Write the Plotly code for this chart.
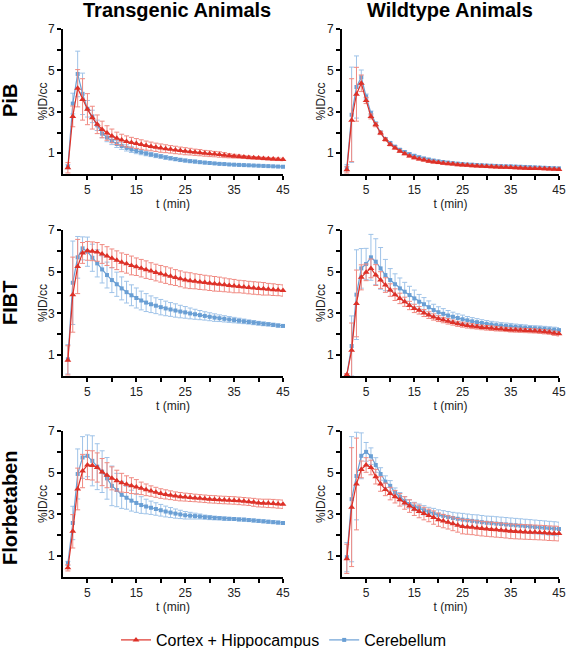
import plotly.graph_objects as go

t = list(range(1, 46))
row_labels = ["PiB", "FIBT", "Florbetaben"]
col_labels = ["Transgenic Animals", "Wildtype Animals"]
x_title = "t (min)"
y_title = "%ID/cc"
x_tickvals = [5, 10, 15, 20, 25, 30, 35, 40, 45]
x_ticktext = ["5", "", "15", "", "25", "", "35", "", "45"]
y_tickvals = [1, 2, 3, 4, 5, 6, 7]
y_ticktext = ["1", "", "3", "", "5", "", "7"]

# ---- PiB, transgenic ----
pib_tg_ch = [0.3, 2.78, 4.14, 3.6, 3.13, 2.72, 2.4, 2.15, 1.98, 1.84, 1.72, 1.64, 1.57, 1.52, 1.47,
             1.42, 1.37, 1.33, 1.29, 1.25, 1.22, 1.19, 1.16, 1.13, 1.1, 1.08, 1.05, 1.03, 1.0, 0.98,
             0.96, 0.94, 0.91, 0.88, 0.86, 0.84, 0.82, 0.8, 0.78, 0.77, 0.75, 0.74, 0.72, 0.71, 0.7]
pib_tg_ch_err = [0.25, 0.5, 0.9, 1.0, 0.75, 0.55, 0.45, 0.4, 0.35, 0.33, 0.3, 0.28, 0.27, 0.25, 0.24,
                 0.23, 0.22, 0.21, 0.2, 0.2, 0.19, 0.18, 0.18, 0.17, 0.17, 0.16, 0.15, 0.15, 0.14, 0.14,
                 0.13, 0.13, 0.12, 0.1, 0.09, 0.08, 0.07, 0.07, 0.06, 0.06, 0.06, 0.06, 0.06, 0.06, 0.06]
pib_tg_cb = [0.35, 3.4, 4.83, 3.87, 3.15, 2.78, 2.35, 1.95, 1.76, 1.6, 1.45, 1.35, 1.26, 1.18, 1.11,
             1.05, 0.99, 0.94, 0.89, 0.85, 0.8, 0.76, 0.72, 0.68, 0.65, 0.62, 0.6, 0.57, 0.55, 0.53,
             0.51, 0.49, 0.48, 0.46, 0.45, 0.44, 0.43, 0.42, 0.41, 0.4, 0.39, 0.38, 0.37, 0.36, 0.35]
pib_tg_cb_err = [0.1, 0.5, 1.1, 1.0, 0.4, 0.3, 0.25, 0.2, 0.2, 0.18, 0.17, 0.16, 0.15, 0.14, 0.13,
                 0.12, 0.11, 0.1, 0.1, 0.09, 0.09, 0.08, 0.08, 0.08, 0.07, 0.07, 0.07, 0.06, 0.06, 0.06,
                 0.05, 0.05, 0.05, 0.05, 0.05, 0.05, 0.05, 0.05, 0.05, 0.05, 0.05, 0.05, 0.05, 0.05, 0.05]

# ---- PiB, wildtype ----
pib_wt_ch = [0.2, 2.6, 3.85, 4.38, 3.55, 2.78, 2.38, 1.98, 1.66, 1.42, 1.25, 1.1, 0.98, 0.87, 0.78,
             0.72, 0.67, 0.62, 0.58, 0.55, 0.52, 0.5, 0.48, 0.45, 0.43, 0.42, 0.4, 0.39, 0.37, 0.36,
             0.35, 0.34, 0.33, 0.32, 0.31, 0.3, 0.29, 0.28, 0.27, 0.27, 0.26, 0.25, 0.24, 0.23, 0.22]
pib_wt_ch_err = [0.15, 2.0, 1.3, 0.4, 0.15, 0.12, 0.1, 0.08, 0.07, 0.06, 0.05, 0.05, 0.05, 0.05, 0.05,
                 0.05, 0.05, 0.05, 0.05, 0.05, 0.05, 0.05, 0.05, 0.05, 0.05, 0.05, 0.05, 0.05, 0.05, 0.05,
                 0.05, 0.05, 0.05, 0.05, 0.05, 0.05, 0.05, 0.05, 0.05, 0.05, 0.05, 0.05, 0.05, 0.05, 0.05]
pib_wt_cb = [0.3, 2.86, 4.2, 4.67, 3.74, 2.94, 2.43, 2.0, 1.69, 1.5, 1.32, 1.17, 1.06, 0.96, 0.88,
             0.81, 0.75, 0.7, 0.65, 0.61, 0.58, 0.55, 0.52, 0.5, 0.48, 0.46, 0.45, 0.43, 0.42, 0.41,
             0.4, 0.39, 0.38, 0.37, 0.37, 0.36, 0.35, 0.34, 0.33, 0.32, 0.31, 0.3, 0.29, 0.28, 0.27]
pib_wt_cb_err = [0.15, 2.3, 1.5, 0.35, 0.12, 0.1, 0.08, 0.07, 0.06, 0.05, 0.05, 0.05, 0.05, 0.05, 0.05,
                 0.05, 0.05, 0.05, 0.05, 0.05, 0.05, 0.05, 0.05, 0.05, 0.05, 0.05, 0.05, 0.05, 0.05, 0.05,
                 0.05, 0.05, 0.05, 0.05, 0.05, 0.05, 0.05, 0.05, 0.05, 0.05, 0.05, 0.05, 0.05, 0.05, 0.05]

# ---- FIBT, transgenic ----
fibt_tg_ch = [0.75, 3.9, 5.25, 5.9, 6.0, 5.98, 5.95, 5.85, 5.75, 5.64, 5.55, 5.45, 5.38, 5.3, 5.24,
              5.17, 5.1, 5.03, 4.96, 4.9, 4.84, 4.78, 4.72, 4.66, 4.6, 4.57, 4.54, 4.51, 4.48, 4.45,
              4.42, 4.4, 4.37, 4.34, 4.31, 4.29, 4.27, 4.24, 4.22, 4.2, 4.18, 4.16, 4.14, 4.12, 4.1]
fibt_tg_ch_err = [0.7, 1.8, 1.3, 0.5, 0.45, 0.45, 0.45, 0.45, 0.45, 0.45, 0.45, 0.45, 0.45, 0.45, 0.42,
                  0.42, 0.42, 0.4, 0.4, 0.4, 0.4, 0.4, 0.38, 0.38, 0.38, 0.38, 0.36, 0.36, 0.35, 0.35,
                  0.35, 0.34, 0.33, 0.32, 0.32, 0.3, 0.3, 0.3, 0.3, 0.3, 0.3, 0.28, 0.28, 0.27, 0.27]
fibt_tg_cb = [0.8, 4.47, 5.69, 6.12, 5.96, 5.67, 5.4, 5.11, 4.84, 4.6, 4.4, 4.2, 4.02, 3.87, 3.74,
              3.62, 3.52, 3.44, 3.37, 3.3, 3.24, 3.19, 3.14, 3.09, 3.05, 3.0, 2.96, 2.92, 2.88, 2.84,
              2.8, 2.77, 2.74, 2.71, 2.68, 2.65, 2.62, 2.59, 2.56, 2.53, 2.5, 2.48, 2.45, 2.42, 2.4]
fibt_tg_cb_err = [0.7, 2.0, 1.0, 0.55, 0.7, 0.65, 0.65, 0.65, 0.62, 0.6, 0.58, 0.55, 0.52, 0.5, 0.48,
                  0.45, 0.43, 0.4, 0.38, 0.37, 0.35, 0.33, 0.32, 0.3, 0.28, 0.26, 0.24, 0.22, 0.2, 0.19,
                  0.18, 0.16, 0.15, 0.14, 0.13, 0.12, 0.11, 0.1, 0.1, 0.09, 0.09, 0.08, 0.08, 0.08, 0.07]

# ---- FIBT, wildtype ----
fibt_wt_ch = [0.06, 1.24, 3.48, 4.73, 4.97, 5.16, 4.84, 4.6, 4.36, 4.12, 3.9, 3.72, 3.56, 3.38, 3.24,
              3.15, 3.02, 2.92, 2.83, 2.75, 2.68, 2.62, 2.56, 2.5, 2.46, 2.42, 2.39, 2.36, 2.33, 2.31,
              2.29, 2.27, 2.25, 2.23, 2.21, 2.2, 2.19, 2.18, 2.17, 2.16, 2.14, 2.12, 2.1, 2.05, 2.02]
fibt_wt_ch_err = [0.06, 1.3, 1.6, 0.6, 0.4, 0.45, 0.5, 0.4, 0.35, 0.3, 0.28, 0.25, 0.22, 0.2, 0.2,
                  0.18, 0.17, 0.16, 0.15, 0.14, 0.13, 0.13, 0.12, 0.12, 0.12, 0.12, 0.12, 0.11, 0.11, 0.11,
                  0.11, 0.11, 0.1, 0.1, 0.1, 0.1, 0.1, 0.1, 0.1, 0.1, 0.1, 0.1, 0.1, 0.1, 0.1]
fibt_wt_cb = [0.05, 1.44, 3.9, 5.16, 5.37, 5.69, 5.48, 5.16, 4.84, 4.6, 4.4, 4.2, 4.04, 3.88, 3.72,
              3.56, 3.44, 3.3, 3.16, 3.06, 2.98, 2.9, 2.84, 2.78, 2.72, 2.67, 2.62, 2.58, 2.54, 2.5,
              2.47, 2.44, 2.42, 2.4, 2.38, 2.36, 2.34, 2.32, 2.3, 2.29, 2.28, 2.26, 2.24, 2.22, 2.2]
fibt_wt_cb_err = [0.05, 1.44, 2.15, 0.95, 0.75, 1.1, 1.1, 1.0, 0.75, 0.55, 0.5, 0.5, 0.45, 0.42, 0.4,
                  0.35, 0.32, 0.3, 0.28, 0.26, 0.25, 0.24, 0.22, 0.2, 0.2, 0.18, 0.18, 0.17, 0.16, 0.16,
                  0.15, 0.15, 0.14, 0.14, 0.14, 0.13, 0.13, 0.13, 0.12, 0.12, 0.12, 0.12, 0.12, 0.12, 0.12]

# ---- Florbetaben, transgenic ----
fbb_tg_ch = [0.44, 2.19, 4.22, 5.08, 5.37, 5.35, 5.25, 5.03, 4.88, 4.73, 4.62, 4.52, 4.45, 4.38, 4.32,
             4.25, 4.18, 4.12, 4.06, 4.0, 3.96, 3.92, 3.88, 3.85, 3.83, 3.81, 3.79, 3.77, 3.75, 3.73,
             3.72, 3.7, 3.69, 3.68, 3.67, 3.65, 3.63, 3.61, 3.58, 3.55, 3.54, 3.53, 3.52, 3.5, 3.49]
fbb_tg_ch_err = [0.15, 0.8, 1.0, 0.8, 0.7, 0.7, 0.7, 0.65, 0.6, 0.55, 0.5, 0.45, 0.4, 0.38, 0.35,
                 0.3, 0.28, 0.25, 0.24, 0.23, 0.22, 0.21, 0.2, 0.2, 0.19, 0.19, 0.18, 0.18, 0.18, 0.18,
                 0.18, 0.18, 0.18, 0.18, 0.18, 0.18, 0.18, 0.18, 0.19, 0.19, 0.19, 0.2, 0.2, 0.2, 0.2]
fbb_tg_cb = [0.65, 2.59, 4.94, 5.73, 5.81, 5.57, 5.29, 5.05, 4.73, 4.37, 4.17, 3.94, 3.8, 3.66, 3.55,
             3.45, 3.38, 3.32, 3.26, 3.2, 3.14, 3.09, 3.04, 3.0, 2.96, 2.94, 2.92, 2.9, 2.87, 2.85,
             2.83, 2.82, 2.8, 2.79, 2.78, 2.76, 2.75, 2.73, 2.71, 2.69, 2.67, 2.65, 2.63, 2.61, 2.59]
fbb_tg_cb_err = [0.1, 0.8, 1.2, 1.0, 1.0, 1.2, 1.1, 1.0, 1.0, 0.95, 0.8, 0.65, 0.55, 0.5, 0.45,
                 0.4, 0.35, 0.32, 0.3, 0.28, 0.26, 0.24, 0.22, 0.2, 0.18, 0.16, 0.14, 0.12, 0.1, 0.1,
                 0.09, 0.08, 0.08, 0.07, 0.07, 0.07, 0.07, 0.07, 0.07, 0.07, 0.07, 0.07, 0.07, 0.07, 0.07]

# ---- Florbetaben, wildtype ----
fbb_wt_ch = [0.87, 3.35, 4.46, 5.16, 5.37, 5.25, 4.81, 4.46, 4.2, 4.0, 3.85, 3.7, 3.55, 3.4, 3.25,
             3.14, 3.04, 2.95, 2.85, 2.75, 2.68, 2.62, 2.55, 2.48, 2.42, 2.4, 2.38, 2.35, 2.32, 2.3,
             2.28, 2.26, 2.24, 2.22, 2.19, 2.18, 2.17, 2.16, 2.15, 2.14, 2.13, 2.12, 2.1, 2.09, 2.08]
fbb_wt_ch_err = [0.7, 2.85, 2.2, 0.4, 0.35, 0.35, 0.35, 0.35, 0.3, 0.3, 0.3, 0.3, 0.3, 0.3, 0.3,
                 0.3, 0.3, 0.3, 0.32, 0.32, 0.32, 0.32, 0.33, 0.33, 0.35, 0.35, 0.35, 0.35, 0.35, 0.35,
                 0.35, 0.35, 0.35, 0.35, 0.35, 0.35, 0.35, 0.35, 0.35, 0.35, 0.35, 0.35, 0.35, 0.35, 0.35]
fbb_wt_cb = [0.95, 3.73, 4.84, 5.81, 6.0, 5.79, 5.37, 4.94, 4.57, 4.37, 4.05, 3.85, 3.65, 3.5, 3.38,
             3.3, 3.2, 3.12, 3.05, 2.98, 2.93, 2.88, 2.83, 2.79, 2.75, 2.72, 2.69, 2.66, 2.63, 2.6,
             2.58, 2.56, 2.54, 2.52, 2.5, 2.48, 2.46, 2.44, 2.42, 2.4, 2.38, 2.36, 2.34, 2.32, 2.3]
fbb_wt_cb_err = [0.7, 3.0, 2.1, 1.1, 0.45, 0.4, 0.35, 0.3, 0.28, 0.25, 0.22, 0.2, 0.2, 0.2, 0.2,
                 0.2, 0.22, 0.22, 0.24, 0.24, 0.25, 0.26, 0.27, 0.28, 0.3, 0.3, 0.3, 0.32, 0.32, 0.32,
                 0.33, 0.33, 0.33, 0.33, 0.33, 0.33, 0.33, 0.33, 0.33, 0.33, 0.33, 0.33, 0.33, 0.33, 0.33]

panels = [
    (pib_tg_ch, pib_tg_ch_err, pib_tg_cb, pib_tg_cb_err),
    (pib_wt_ch, pib_wt_ch_err, pib_wt_cb, pib_wt_cb_err),
    (fibt_tg_ch, fibt_tg_ch_err, fibt_tg_cb, fibt_tg_cb_err),
    (fibt_wt_ch, fibt_wt_ch_err, fibt_wt_cb, fibt_wt_cb_err),
    (fbb_tg_ch, fbb_tg_ch_err, fbb_tg_cb, fbb_tg_cb_err),
    (fbb_wt_ch, fbb_wt_ch_err, fbb_wt_cb, fbb_wt_cb_err),
]

W, H = 567, 648
col_px = [(63, 283), (342, 559)]
row_px = [(29, 174), (230, 376), (431, 577)]
ytitle_px = [43, 321]
coltitle_px = [177, 450]

RED = "#dd3128"
RED_ERR = "#f08a82"
BLUE = "#6a9fd4"
BLUE_ERR = "#9fc3e8"
FONT = "Liberation Sans, Arial, sans-serif"

fig = go.Figure()
layout = {}
annotations = []
for i, (ch, ch_err, cb, cb_err) in enumerate(panels):
    r, c = divmod(i, 2)
    n = i + 1
    xa = "x" if n == 1 else f"x{n}"
    ya = "y" if n == 1 else f"y{n}"
    fig.add_trace(go.Scatter(
        x=t, y=cb, mode="lines+markers", name="Cerebellum",
        line=dict(color=BLUE, width=1.2),
        marker=dict(symbol="square", size=4, color=BLUE),
        error_y=dict(type="data", array=cb_err, color=BLUE_ERR, thickness=1, width=2.5),
        xaxis=xa, yaxis=ya, cliponaxis=False,
        showlegend=(i == 0), legendgroup="cb", legendrank=2))
    fig.add_trace(go.Scatter(
        x=t, y=ch, mode="lines+markers", name="Cortex + Hippocampus",
        line=dict(color=RED, width=1.2),
        marker=dict(symbol="triangle-up", size=6, color=RED),
        error_y=dict(type="data", array=ch_err, color=RED_ERR, thickness=1, width=2.5),
        xaxis=xa, yaxis=ya, cliponaxis=False,
        showlegend=(i == 0), legendgroup="ch", legendrank=1))
    x0, x1 = col_px[c]
    y0, y1 = row_px[r]
    axcommon = dict(showline=True, linecolor="black", linewidth=2, ticks="outside",
                    ticklen=4, tickwidth=1.5, tickcolor="black", showgrid=False,
                    zeroline=False, automargin=False, ticklabeloverflow="allow",
                    tickfont=dict(size=12, color="#222", family=FONT))
    layout["xaxis" if n == 1 else f"xaxis{n}"] = dict(
        domain=[x0 / W, x1 / W], range=[0, 45], anchor=ya,
        tickmode="array", tickvals=x_tickvals, ticktext=x_ticktext,
        title=dict(text=x_title, font=dict(size=12, color="#222", family=FONT), standoff=2),
        **axcommon)
    layout["yaxis" if n == 1 else f"yaxis{n}"] = dict(
        domain=[1 - y1 / H, 1 - y0 / H], range=[0, 7], anchor=xa,
        tickmode="array", tickvals=y_tickvals, ticktext=y_ticktext,
        **axcommon)
    annotations.append(dict(text=y_title, x=ytitle_px[c] / W, y=1 - (y0 + y1) / 2 / H,
                            xref="paper", yref="paper", showarrow=False, textangle=-90,
                            xanchor="center", yanchor="middle",
                            font=dict(size=12, color="#222", family=FONT)))

for c, lab in enumerate(col_labels):
    annotations.append(dict(text=f"<b>{lab}</b>", x=coltitle_px[c] / W, y=1 - 10 / H,
                            xref="paper", yref="paper", showarrow=False,
                            xanchor="center", yanchor="middle",
                            font=dict(size=20, color="black", family=FONT)))
row_centers = [101, 303, 508]
for r, lab in enumerate(row_labels):
    annotations.append(dict(text=f"<b>{lab}</b>", x=0, y=1 - row_centers[r] / H,
                            xref="paper", yref="paper", showarrow=False, textangle=-90,
                            xanchor="left", yanchor="middle", xshift=-3,
                            font=dict(size=20, color="black", family=FONT)))

fig.update_layout(
    width=W, height=H, margin=dict(l=0, r=0, t=0, b=0, autoexpand=False),
    plot_bgcolor="white", paper_bgcolor="white",
    font=dict(family=FONT, color="#222"),
    annotations=annotations,
    legend=dict(orientation="h", x=0.5, xanchor="center", y=1 - 640 / H, yanchor="middle",
                font=dict(size=16, color="black", family=FONT), itemwidth=30,
                bgcolor="rgba(0,0,0,0)"),
    **layout)

fig.write_html("out.html", config={"displayModeBar": False},
               post_script="document.body.style.margin='0';document.body.style.overflow='hidden';")
